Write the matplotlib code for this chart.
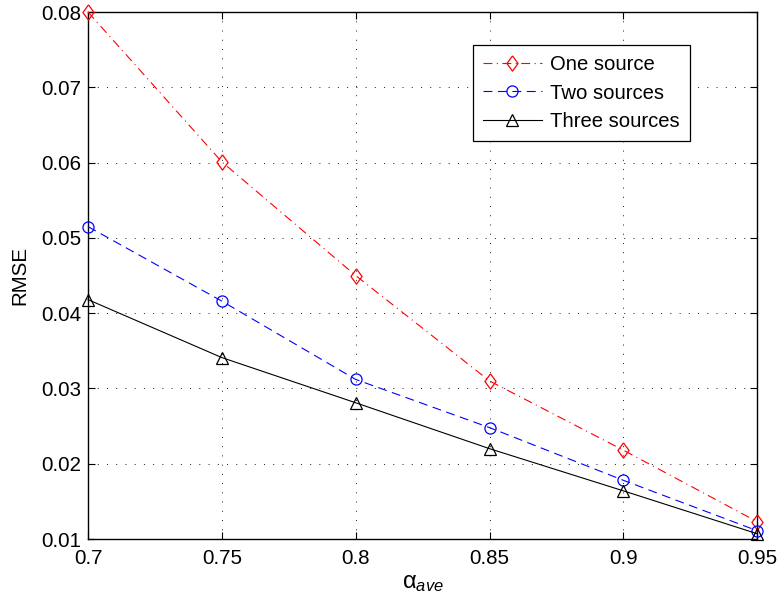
import matplotlib
matplotlib.use("Agg")
import matplotlib.pyplot as plt

alpha = [0.70, 0.75, 0.80, 0.85, 0.90, 0.95]
one_source = [0.0800, 0.0601, 0.0450, 0.0310, 0.0218, 0.0123]
two_sources = [0.0515, 0.0416, 0.0312, 0.0248, 0.0178, 0.0111]
three_sources = [0.0418, 0.0341, 0.0281, 0.0220, 0.0164, 0.0107]
xticks = [0.7, 0.75, 0.8, 0.85, 0.9, 0.95]
xticklabels = ["0.7", "0.75", "0.8", "0.85", "0.9", "0.95"]
yticks = [0.01, 0.02, 0.03, 0.04, 0.05, 0.06, 0.07, 0.08]
yticklabels = ["0.01", "0.02", "0.03", "0.04", "0.05", "0.06", "0.07", "0.08"]

plt.rcParams['font.family'] = ['Liberation Sans', 'DejaVu Sans']
plt.rcParams['mathtext.fontset'] = 'custom'
plt.rcParams['mathtext.rm'] = 'Liberation Sans'
plt.rcParams['mathtext.it'] = 'Liberation Sans:italic'

fig = plt.figure(figsize=(7.79, 6.04), dpi=100)
ax = fig.add_axes([0.113, 0.1076, 0.859, 0.8724])

thin_d = [(0, 1), (0.73, 0), (0, -1), (-0.73, 0), (0, 1)]

ax.plot(alpha, one_source, color='red', linestyle=(0, (8, 4, 1, 4)), lw=0.8,
        marker=thin_d, ms=11, mfc='none', mec='red', mew=0.9, label='One source',
        zorder=6, clip_on=False)
ax.plot(alpha, two_sources, color='blue', linestyle=(0, (8, 5)), lw=0.8,
        marker='o', ms=8, mfc='none', mec='blue', mew=0.9, label='Two sources',
        zorder=6, clip_on=False)
ax.plot(alpha, three_sources, color='black', linestyle='-', lw=0.8,
        marker='^', ms=8.5, mfc='none', mec='black', mew=0.9, label='Three sources',
        zorder=6, clip_on=False)

ax.set_xlim(0.7, 0.95)
ax.set_ylim(0.01, 0.08)
ax.set_xticks(xticks)
ax.set_xticklabels(xticklabels)
ax.set_yticks(yticks)
ax.set_yticklabels(yticklabels)
ax.tick_params(direction='in', top=True, right=True, labelsize=14.8, length=5, width=0.8)
ax.tick_params(axis='x', pad=7)
ax.tick_params(axis='y', pad=5)
ax.grid(True, linestyle=(0, (1, 8.5)), color='black', lw=0.7, alpha=0.9)
for s in ax.spines.values():
    s.set_linewidth(1.0)
    s.set_zorder(5)

ax.set_xlabel(r'$\mathrm{\alpha}_{ave}$', fontsize=17, labelpad=3)
ax.set_ylabel('RMSE', fontsize=14.8, labelpad=8)

leg = ax.legend(loc='upper left', bbox_to_anchor=(0.575, 0.937), fontsize=14.6,
                frameon=True, fancybox=False, edgecolor='black', framealpha=1,
                handlelength=2.9, borderpad=0.5, labelspacing=0.45, handletextpad=0.4,
                borderaxespad=0)
leg.get_frame().set_linewidth(0.9)
leg.set_zorder(7)

fig.savefig('out.png', dpi=100)
